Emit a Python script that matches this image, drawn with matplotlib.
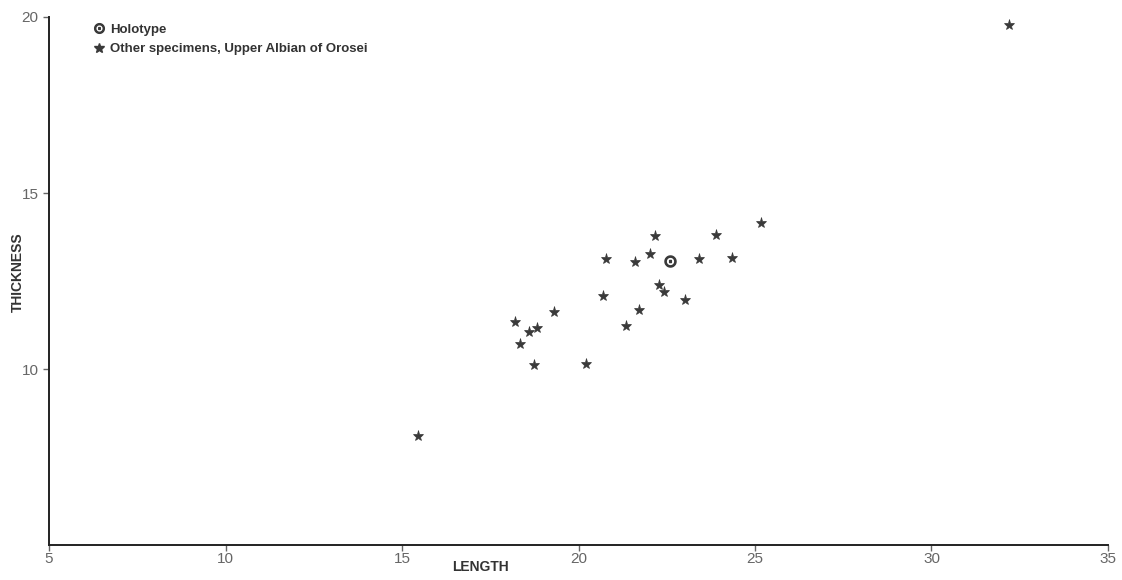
import matplotlib
matplotlib.use("Agg")
import matplotlib.pyplot as plt
from matplotlib.lines import Line2D

plt.rcParams['font.family'] = ['Liberation Sans Narrow', 'Liberation Sans', 'DejaVu Sans']

# other specimens, Upper Albian of Orosei
length = [25.17, 23.90, 22.17, 22.03, 20.78, 21.60, 23.40, 24.34, 22.28, 22.41,
          23.03, 20.70, 21.72, 19.31, 21.35, 18.19, 18.61, 18.83, 18.33, 18.73,
          20.21, 15.45, 32.20]
thickness = [14.16, 13.82, 13.78, 13.28, 13.13, 13.05, 13.13, 13.16, 12.39, 12.20,
             11.96, 12.07, 11.68, 11.63, 11.22, 11.33, 11.05, 11.16, 10.71, 10.12,
             10.13, 8.10, 19.77]

# holotype
holo_length = [22.60]
holo_thickness = [13.07]

xticks = [5, 10, 15, 20, 25, 30, 35]
yticks = [10, 15, 20]

ink = '#3a3a3a'

fig = plt.figure(figsize=(11.22, 5.80), dpi=100)
ax = fig.add_axes([0.0437, 0.0603, 0.9438, 0.9104])

ax.plot(length, thickness, linestyle='none', marker='*', markersize=8,
        color=ink, markeredgewidth=0.5)
ax.plot(holo_length, holo_thickness, linestyle='none', marker=r'$\odot$',
        markersize=8, color=ink)

ax.set_xlim(5, 35)
ax.set_ylim(5, 20)
ax.set_xticks(xticks)
ax.set_yticks(yticks)
ax.tick_params(direction='out', length=4, width=1, colors='#666666',
               labelsize=11)
ax.tick_params(axis='x', pad=1)
for side in ['top', 'right']:
    ax.spines[side].set_visible(False)
for side in ['left', 'bottom']:
    ax.spines[side].set_linewidth(1.4)
    ax.spines[side].set_color('#222222')

fig.text(0.428, 0.022, 'LENGTH', fontsize=10, fontweight='bold',
         color='#333333', ha='center', va='center')
fig.text(0.016, 0.53, 'THICKNESS', fontsize=10, fontweight='bold',
         color='#333333', ha='center', va='center', rotation=90)

handles = [
    Line2D([], [], linestyle='none', marker=r'$\odot$', markersize=7, color=ink),
    Line2D([], [], linestyle='none', marker='*', markersize=7, color=ink),
]
ax.legend(handles, ['Holotype', 'Other specimens, Upper Albian of Orosei'],
          loc='upper left', bbox_to_anchor=(0.03, 1.01), frameon=False,
          handletextpad=0.3, handlelength=1.0, labelspacing=0.55,
          prop={'size': 9.5, 'weight': 'bold'}, labelcolor='#333333')

fig.savefig('out.png', dpi=100)
